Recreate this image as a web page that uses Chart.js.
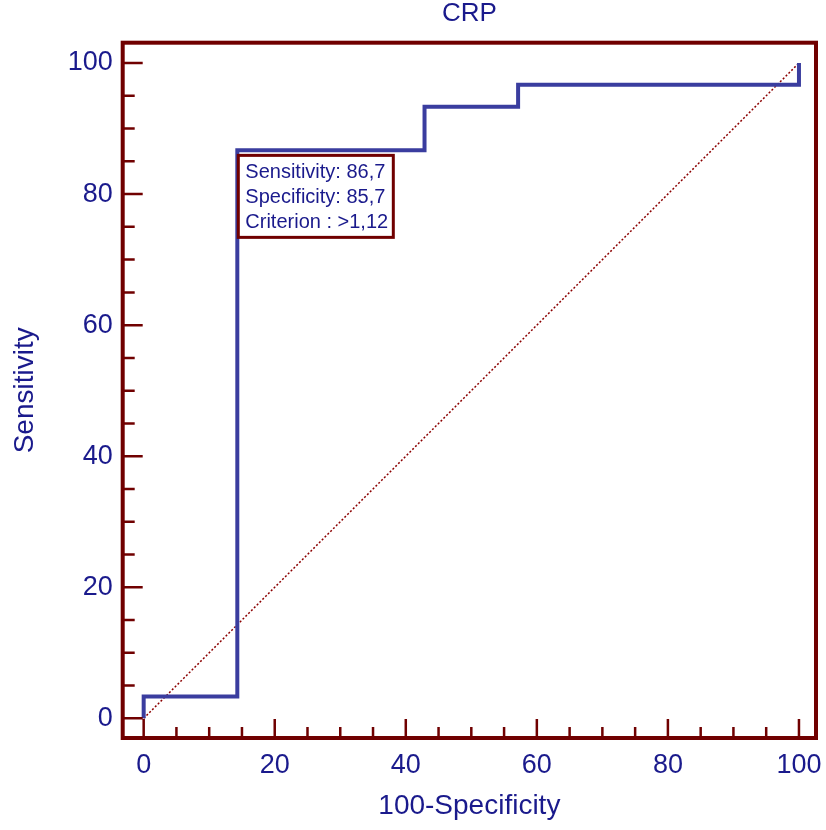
<!DOCTYPE html>
<html>
<head>
<meta charset="utf-8">
<script src="https://cdn.jsdelivr.net/npm/chart.js@4.4.1/dist/chart.umd.min.js"></script>
<style>
  html, body { margin: 0; padding: 0; background: #fff; }
  #wrap { width: 826px; height: 830px; }
</style>
</head>
<body>
<div id="wrap"><canvas id="myChart" width="826" height="830"></canvas></div>
<script>
// ROC curve points (100-Specificity, Sensitivity)
const specComplement = [0, 0, 14.29, 14.29, 42.86, 42.86, 57.14, 57.14, 100, 100];
const sensitivity = [0, 3.33, 3.33, 86.67, 86.67, 93.33, 93.33, 96.67, 96.67, 100];
// reference diagonal
const refX = [0, 100];
const refY = [0, 100];
const majorTicks = [0, 20, 40, 60, 80, 100];
const minorTicks = [5, 10, 15, 25, 30, 35, 45, 50, 55, 65, 70, 75, 85, 90, 95];
const cutoffPoint = { x: 14.29, y: 86.67 };
const cutoffLines = ["Sensitivity: 86,7", "Specificity: 85,7", "Criterion : >1,12"];
const chartTitle = "CRP";

const textColor = "#1a1a8c";
const frameColor = "#700000";
const fontFamily = "'Liberation Sans', Arial, sans-serif";

const frameTicks = {
  id: "frameTicks",
  afterDatasetsDraw(chart) {
    const { ctx, scales: { x, y } } = chart;
    const px = x.getPixelForValue(cutoffPoint.x);
    const py = y.getPixelForValue(cutoffPoint.y);
    ctx.save();
    ctx.fillStyle = "#fff";
    ctx.strokeStyle = frameColor;
    ctx.lineWidth = 3;
    ctx.fillRect(px + 1, py + 5, 155, 82);
    ctx.strokeRect(px + 1, py + 5, 155, 82);
    ctx.fillStyle = textColor;
    ctx.font = "20px " + fontFamily;
    ctx.textBaseline = "alphabetic";
    cutoffLines.forEach((line, i) => {
      ctx.fillText(line, px + 8, py + 28 + i * 25);
    });
    ctx.restore();
  },
  afterDraw(chart) {
    const { ctx, chartArea: a, scales: { x, y } } = chart;
    ctx.save();
    // title centred over the plot area
    ctx.fillStyle = textColor;
    ctx.font = "26px " + fontFamily;
    ctx.textAlign = "center";
    ctx.textBaseline = "middle";
    ctx.fillText(chartTitle, (a.left + a.right) / 2, 14);

    ctx.strokeStyle = frameColor;
    ctx.lineWidth = 4;
    ctx.strokeRect(a.left, a.top, a.right - a.left, a.bottom - a.top);
    ctx.lineWidth = 2.5;
    ctx.beginPath();
    majorTicks.concat(minorTicks).forEach((v) => {
      const len = majorTicks.includes(v) ? 19 : 11;
      const xp = x.getPixelForValue(v);
      ctx.moveTo(xp, a.bottom);
      ctx.lineTo(xp, a.bottom - len);
      const yp = y.getPixelForValue(v);
      ctx.moveTo(a.left, yp);
      ctx.lineTo(a.left + len + 1, yp);
    });
    ctx.stroke();
    ctx.restore();
  },
};

const ctx = document.getElementById("myChart");
const myChart = new Chart(ctx, {
  type: "scatter",
  data: {
    datasets: [
      {
        label: "ROC",
        data: specComplement.map((v, i) => ({ x: v, y: sensitivity[i] })),
        showLine: true,
        borderColor: "#3a3d9f",
        borderWidth: 4,
        borderJoinStyle: "miter",
        pointRadius: 0,
        tension: 0,
        fill: false,
      },
      {
        label: "Reference",
        data: refX.map((v, i) => ({ x: v, y: refY[i] })),
        showLine: true,
        borderColor: "#8b0000",
        borderWidth: 1.5,
        borderDash: [2, 2],
        pointRadius: 0,
        fill: false,
      },
    ],
  },
  options: {
    responsive: false,
    animation: false,
    layout: { padding: { left: 0, right: 10, top: 42.7, bottom: 0 } },
    plugins: {
      legend: { display: false },
      tooltip: { enabled: false },
      title: { display: false },
    },
    scales: {
      x: {
        type: "linear",
        min: -3.2,
        max: 102.6,
        afterBuildTicks: (s) => { s.ticks = majorTicks.map((v) => ({ value: v })); },
        afterFit: (s) => { s.height = 92; s.paddingLeft = 0; s.paddingRight = 0; },
        grid: { display: false, drawTicks: false },
        border: { display: false },
        ticks: { color: textColor, font: { family: fontFamily, size: 27 }, padding: 11, maxRotation: 0, autoSkip: false },
        title: {
          display: true,
          text: "100-Specificity",
          color: textColor,
          font: { family: fontFamily, size: 28 },
          padding: { top: 0, bottom: 7 },
        },
      },
      y: {
        type: "linear",
        min: -3.0,
        max: 103.1,
        afterBuildTicks: (s) => { s.ticks = majorTicks.map((v) => ({ value: v })); },
        afterFit: (s) => { s.width = 122.7; s.paddingTop = 0; s.paddingBottom = 0; },
        grid: { display: false, drawTicks: false },
        border: { display: false },
        ticks: { color: textColor, font: { family: fontFamily, size: 27 }, padding: 10, autoSkip: false },
        title: {
          display: true,
          text: "Sensitivity",
          color: textColor,
          font: { family: fontFamily, size: 28 },
          padding: { top: 8, bottom: 0 },
        },
      },
    },
  },
  plugins: [frameTicks],
});
</script>
</body>
</html>
